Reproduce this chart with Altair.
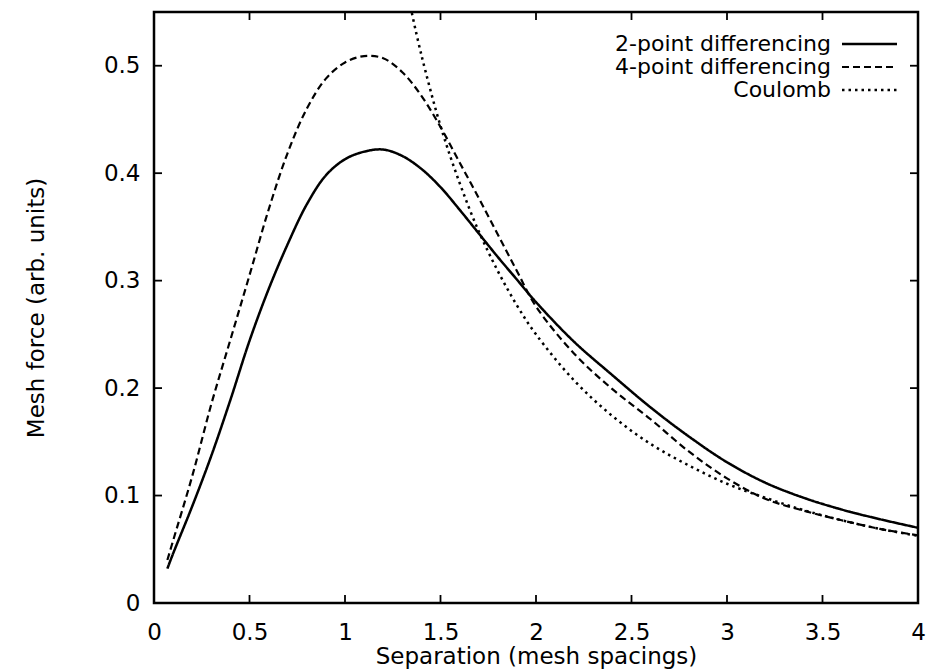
import altair as alt
import pandas as pd

# ---- data ----
x_two = [0.07, 0.1, 0.2, 0.3, 0.4, 0.5, 0.6, 0.7, 0.8, 0.9, 1.0, 1.1, 1.2, 1.3, 1.4, 1.5, 1.6, 1.7, 1.8, 1.9, 2.0,
         2.2, 2.4, 2.6, 2.8, 3.0, 3.2, 3.4, 3.6, 3.8, 4.0]
y_two = [0.032, 0.046, 0.090, 0.137, 0.189, 0.244, 0.292, 0.334, 0.371, 0.398, 0.413, 0.420, 0.422, 0.416, 0.404,
         0.387, 0.366, 0.344, 0.322, 0.301, 0.280, 0.243, 0.212, 0.182, 0.155, 0.131, 0.112, 0.098, 0.087, 0.078, 0.070]

x_four = [0.07, 0.1, 0.2, 0.3, 0.4, 0.5, 0.6, 0.7, 0.8, 0.9, 1.0, 1.1, 1.2, 1.3, 1.4, 1.5, 1.6, 1.7, 1.8, 1.9, 2.0,
          2.2, 2.4, 2.6, 2.8, 3.0, 3.2, 3.4, 3.6, 3.8, 4.0]
y_four = [0.040, 0.058, 0.118, 0.185, 0.245, 0.305, 0.366, 0.419, 0.460, 0.488, 0.503, 0.509, 0.507, 0.494, 0.472,
          0.443, 0.410, 0.377, 0.343, 0.309, 0.276, 0.232, 0.199, 0.171, 0.141, 0.116, 0.097, 0.086, 0.077, 0.069, 0.063]

x_coul = [1.35, 1.4, 1.5, 1.6, 1.7, 1.8, 1.9, 2.0, 2.2, 2.4, 2.6, 2.8, 3.0, 3.2, 3.4, 3.6, 3.8, 4.0]
y_coul = [0.549, 0.510, 0.444, 0.391, 0.346, 0.309, 0.277, 0.250, 0.207, 0.174, 0.148, 0.128, 0.111, 0.098,
          0.0865, 0.077, 0.069, 0.0625]

legend_labels = ["2-point differencing", "4-point differencing", "Coulomb"]
x_tick_values = [0, 0.5, 1, 1.5, 2, 2.5, 3, 3.5, 4]
y_tick_values = [0, 0.1, 0.2, 0.3, 0.4, 0.5]
x_inner_ticks = [0.5, 1, 1.5, 2, 2.5, 3, 3.5]
y_inner_ticks = [0.1, 0.2, 0.3, 0.4, 0.5]

W, H = 764, 591
FONT = "DejaVu Sans"
dashes = [[1, 0], [7, 4], [2.5, 4]]
widths = [2.5, 2.2, 2.5]

xs = alt.Scale(domain=[0, 4], nice=False, zero=False)
ys = alt.Scale(domain=[0, 0.55], nice=False)

xaxis = alt.Axis(values=x_tick_values, format="~g", ticks=False, domain=False, grid=False,
                 labelFont=FONT, labelFontSize=23, labelPadding=18, labelColor="black",
                 labelFlush=False, titleFont=FONT, titleFontSize=23, titleFontWeight="normal",
                 titleColor="black", titlePadding=1)
yaxis = alt.Axis(values=y_tick_values, format="~g", ticks=False, domain=False, grid=False,
                 labelFont=FONT, labelFontSize=23, labelPadding=14, labelColor="black",
                 labelFlush=False, titleFont=FONT, titleFontSize=23, titleFontWeight="normal",
                 titleColor="black", titlePadding=55)
XT = "Separation (mesh spacings)"
YT = "Mesh force (arb. units)"


def X(field="x"):
    return alt.X(f"{field}:Q", scale=xs, axis=xaxis, title=XT)


def Y(field="y"):
    return alt.Y(f"{field}:Q", scale=ys, axis=yaxis, title=YT)


series = [(x_two, y_two), (x_four, y_four), (x_coul, y_coul)]
layers = []
for i, (xv, yv) in enumerate(series):
    df = pd.DataFrame({"x": xv, "y": yv})
    layers.append(
        alt.Chart(df).mark_line(color="black", strokeWidth=widths[i], strokeDash=dashes[i],
                                interpolate="catmull-rom", clip=True).encode(x=X(), y=Y())
    )

# inward tick marks (bottom/top, left/right)
xt = pd.DataFrame({"x": x_inner_ticks})
yt = pd.DataFrame({"y": y_inner_ticks})
layers.append(alt.Chart(xt).mark_rule(color="black", strokeWidth=1.8).encode(
    x=X(), y=alt.value(H), y2=alt.value(H - 8)))
layers.append(alt.Chart(xt).mark_rule(color="black", strokeWidth=1.8).encode(
    x=X(), y=alt.value(0), y2=alt.value(8)))
layers.append(alt.Chart(yt).mark_rule(color="black", strokeWidth=1.8).encode(
    y=Y(), x=alt.value(0), x2=alt.value(8)))
layers.append(alt.Chart(yt).mark_rule(color="black", strokeWidth=1.8).encode(
    y=Y(), x=alt.value(W), x2=alt.value(W - 8)))

# legend (text on the left, sample on the right)
row_y = [32, 55, 78]
for i, lab in enumerate(legend_labels):
    d = pd.DataFrame({"t": [lab]})
    layers.append(alt.Chart(d).mark_text(align="right", baseline="middle", font=FONT,
                                         fontSize=22, color="black").encode(
        text="t:N", x=alt.value(677), y=alt.value(row_y[i])))
    layers.append(alt.Chart(d).mark_rule(color="black", strokeWidth=widths[i],
                                         strokeDash=dashes[i]).encode(
        x=alt.value(688), x2=alt.value(743), y=alt.value(row_y[i])))

chart = alt.layer(*layers).properties(
    width=W, height=H,
    background="white",
    padding={"left": 154, "top": 12, "right": 8, "bottom": 68},
    autosize=alt.AutoSizeParams(type="none"),
).configure_view(stroke="black", strokeWidth=2.5)

chart.save("out.html", embed_options={"renderer": "svg", "actions": False})
